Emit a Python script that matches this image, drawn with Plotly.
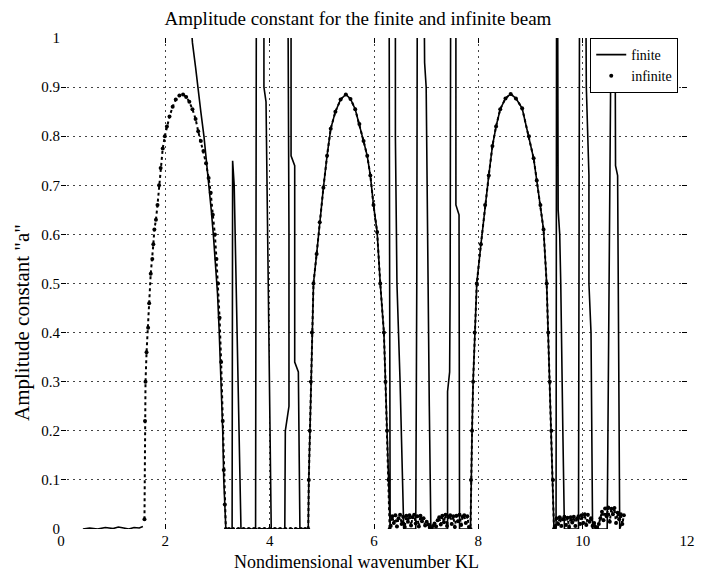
import plotly.graph_objects as go

# ---------------- finite beam ----------------
# low-wavenumber branch (sits on zero)
fin_low_x = [0.42, 0.55, 0.70, 0.85, 1.00, 1.10, 1.20, 1.30, 1.40, 1.50, 1.57]
fin_low_y = [0.0, 0.002, 0.0, 0.003, 0.001, 0.004, 0.002, 0.0, 0.003, 0.002, 0.005]

# first band: falling branch plus the resonance spikes between 3 and 4.6
fin_b1_x = [2.46, 2.52, 2.58, 2.62, 2.68, 2.74, 2.80, 2.84, 2.88, 2.92,
            2.97, 3.00, 3.03, 3.07, 3.10, 3.12, 3.14, 3.16,
            3.28, 3.29, 3.32, 3.36, 3.45,
            3.73, 3.74, 3.745,
            3.89, 3.89, 3.93, 3.96, 4.00, 4.03,
            4.29, 4.30, 4.37, 4.37, 4.35,
            4.41, 4.41, 4.48, 4.48, 4.55, 4.58]
fin_b1_y = [1.08, 0.99, 0.94, 0.90, 0.85, 0.80, 0.74, 0.70, 0.65, 0.60,
            0.53, 0.48, 0.41, 0.30, 0.20, 0.10, 0.03, 0.0,
            0.0, 0.75, 0.70, 0.50, 0.0,
            0.0, 0.50, 1.10,
            1.10, 0.90, 0.87, 0.60, 0.30, 0.0,
            0.0, 0.20, 0.25, 0.60, 1.10,
            1.10, 0.76, 0.74, 0.34, 0.32, 0.0]

# spikes between 6.3 and 7.8
fin_b2_x = [6.31, 6.30, 6.29,
            6.41, 6.41, 6.44, 6.50, 6.57,
            6.80, 6.82, 6.83,
            6.96, 6.97, 7.00, 7.02, 7.03, 7.06, 7.09,
            7.41, 7.41, 7.45, 7.46, 7.47,
            7.57, 7.57, 7.63, 7.64]
fin_b2_y = [0.0, 0.50, 1.10,
            1.10, 0.80, 0.50, 0.30, 0.0,
            0.0, 0.50, 1.10,
            1.10, 0.95, 0.90, 0.62, 0.50, 0.25, 0.0,
            0.0, 0.28, 0.32, 0.50, 1.10,
            1.10, 0.66, 0.64, 0.0]

# spikes between 9.45 and 10.8
fin_b3_x = [9.49, 9.50,
            9.52, 9.53, 9.56, 9.58, 9.62, 9.65,
            9.92, 9.93, 9.94,
            10.06, 10.07, 10.12, 10.12, 10.16, 10.19,
            10.47, 10.50, 10.53, 10.55,
            10.62, 10.63, 10.67, 10.69, 10.71, 10.78]
fin_b3_y = [0.0, 1.10,
            1.10, 0.65, 0.60, 0.50, 0.20, 0.0,
            0.0, 0.50, 1.10,
            1.10, 0.90, 0.72, 0.50, 0.40, 0.0,
            0.0, 0.50, 0.78, 1.10,
            1.10, 0.74, 0.72, 0.40, 0.0, 0.02]

# ---------------- pass-band arches (infinite beam; finite beam follows arches 2 and 3) ----------------
arch1_x = [1.60, 1.61, 1.62, 1.64, 1.67, 1.69, 1.72, 1.75, 1.77, 1.79,
           1.82, 1.85, 1.88, 1.91, 1.95, 1.99, 2.03, 2.08, 2.14, 2.20,
           2.27, 2.34, 2.40, 2.46, 2.52, 2.58, 2.63, 2.68, 2.73, 2.78,
           2.83, 2.87, 2.91, 2.95, 2.98, 3.01, 3.04, 3.07, 3.10, 3.12,
           3.14, 3.16]
arch1_y = [0.02, 0.22, 0.30, 0.36, 0.41, 0.46, 0.52, 0.55, 0.58, 0.61,
           0.63, 0.66, 0.70, 0.735, 0.775, 0.80, 0.82, 0.84, 0.86, 0.875,
           0.883, 0.885, 0.88, 0.87, 0.855, 0.835, 0.81, 0.79, 0.77, 0.745,
           0.715, 0.685, 0.64, 0.60, 0.55, 0.50, 0.43, 0.34, 0.22, 0.12,
           0.05, 0.0]

arch2_x = [4.74, 4.75, 4.77, 4.79, 4.81, 4.84, 4.90, 4.96, 5.03, 5.10,
           5.17, 5.26, 5.36, 5.46, 5.55, 5.64, 5.72, 5.80, 5.87, 5.93,
           5.99, 6.06, 6.12, 6.19, 6.22, 6.25, 6.28, 6.30]
arch2_y = [0.0, 0.10, 0.20, 0.30, 0.40, 0.50, 0.56, 0.625, 0.695, 0.76,
           0.815, 0.85, 0.875, 0.885, 0.876, 0.855, 0.825, 0.79, 0.76, 0.72,
           0.66, 0.605, 0.50, 0.40, 0.30, 0.20, 0.10, 0.0]

arch3_x = [7.85, 7.86, 7.88, 7.90, 7.93, 7.97, 8.05, 8.13, 8.20, 8.27,
           8.34, 8.42, 8.52, 8.62, 8.72, 8.84, 8.97, 9.06, 9.12, 9.19,
           9.25, 9.31, 9.34, 9.37, 9.40, 9.43, 9.45]
arch3_y = [0.0, 0.10, 0.20, 0.30, 0.40, 0.50, 0.58, 0.66, 0.72, 0.78,
           0.82, 0.855, 0.877, 0.886, 0.877, 0.857, 0.80, 0.755, 0.71, 0.66,
           0.61, 0.50, 0.40, 0.30, 0.20, 0.10, 0.0]

# ---------------- infinite beam in the stop bands ----------------
inf_r1_x = [3.22, 3.30, 3.40, 3.50, 3.60, 3.70, 3.80, 3.90, 4.00, 4.10,
            4.20, 4.30, 4.40, 4.50, 4.60, 4.68]
inf_r1_y = [0.0, 0.0, 0.0, 0.0, 0.0, 0.0, 0.0, 0.0, 0.0, 0.0,
            0.0, 0.0, 0.0, 0.0, 0.0, 0.0]

inf_r2_x = [6.32, 6.35, 6.38, 6.41, 6.44, 6.47, 6.50, 6.53, 6.56, 6.59,
            6.62, 6.65, 6.68, 6.71, 6.74, 6.77, 6.80, 6.83, 6.86, 6.89,
            6.92, 6.95, 6.98, 7.01, 7.04, 7.07, 7.10, 7.13, 7.16, 7.19,
            7.22, 7.25, 7.28, 7.31, 7.34, 7.37, 7.40, 7.43, 7.46, 7.49,
            7.52, 7.55, 7.58, 7.61, 7.64, 7.67, 7.70, 7.73, 7.76, 7.79,
            7.82]
inf_r2_y = [0.006, 0.026, 0.012, 0.028, 0.005, 0.022, 0.029, 0.010, 0.025, 0.004,
            0.027, 0.015, 0.028, 0.007, 0.024, 0.029, 0.011, 0.026, 0.005, 0.027,
            0.016, 0.022, 0.007, 0.015, 0.009, 0.003, 0.001, 0.006, 0.011, 0.005,
            0.018, 0.024, 0.009, 0.027, 0.014, 0.029, 0.006, 0.025, 0.028, 0.010,
            0.026, 0.004, 0.027, 0.016, 0.029, 0.008, 0.025, 0.028, 0.012, 0.026,
            0.004]

inf_r3_x = [9.47, 9.50, 9.53, 9.56, 9.59, 9.62, 9.65, 9.68, 9.71, 9.74,
            9.77, 9.80, 9.83, 9.86, 9.89, 9.92, 9.95, 9.98, 10.01, 10.04,
            10.07, 10.10, 10.13, 10.16, 10.19, 10.22, 10.25, 10.28, 10.31, 10.34,
            10.37, 10.40, 10.43, 10.46, 10.49, 10.52, 10.55, 10.58, 10.61, 10.64,
            10.67, 10.70, 10.73, 10.76, 10.79]
inf_r3_y = [0.005, 0.022, 0.010, 0.024, 0.006, 0.020, 0.025, 0.008, 0.023, 0.004,
            0.024, 0.013, 0.025, 0.006, 0.021, 0.026, 0.010, 0.028, 0.012, 0.030,
            0.008, 0.029, 0.015, 0.022, 0.006, 0.012, 0.004, 0.001, 0.010, 0.022,
            0.035, 0.018, 0.042, 0.026, 0.044, 0.015, 0.041, 0.030, 0.043, 0.012,
            0.033, 0.020, 0.030, 0.010, 0.028]

x_ticks = [0, 2, 4, 6, 8, 10, 12]
y_ticks = [0, 0.1, 0.2, 0.3, 0.4, 0.5, 0.6, 0.7, 0.8, 0.9, 1.0]
y_tick_text = ["0", "0.1", "0.2", "0.3", "0.4", "0.5", "0.6", "0.7", "0.8", "0.9", "1"]

# assemble the two curves
finite_x = (fin_low_x + [None] + fin_b1_x + arch2_x + fin_b2_x
            + arch3_x + fin_b3_x)
finite_y = (fin_low_y + [None] + fin_b1_y + arch2_y + fin_b2_y
            + arch3_y + fin_b3_y)
inf_x = arch1_x + inf_r1_x + arch2_x + inf_r2_x + arch3_x + inf_r3_x
inf_y = arch1_y + inf_r1_y + arch2_y + inf_r2_y + arch3_y + inf_r3_y

SERIF = "Liberation Serif, Times New Roman, serif"
INK = "black"

fig = go.Figure()
fig.add_trace(go.Scatter(
    x=finite_x, y=finite_y, mode="lines", name="finite",
    line=dict(color=INK, width=1.6), connectgaps=False,
))
# dense dotted trail between the infinite-beam samples
fig.add_trace(go.Scatter(
    x=inf_x, y=inf_y, mode="lines", showlegend=False, hoverinfo="skip",
    line=dict(color=INK, width=2, dash="dot"),
))
fig.add_trace(go.Scatter(
    x=inf_x, y=inf_y, mode="markers", name="infinite",
    marker=dict(color=INK, size=4),
))

grid = dict(showgrid=True, gridcolor="#444", gridwidth=1, griddash="2px,4px",
            zeroline=False, showline=False, ticks="inside", ticklen=5,
            tickcolor=INK, tickwidth=1, mirror="ticks",
            tickfont=dict(family=SERIF, size=15, color=INK))

fig.update_layout(
    width=710, height=574,
    margin=dict(l=61, r=23, t=38, b=45),
    paper_bgcolor="white", plot_bgcolor="white",
    font=dict(family=SERIF, color=INK),
    title=dict(text="Amplitude constant for the finite and infinite beam",
               x=(358 - 61) / 626, xref="paper", xanchor="center",
               y=1 - 18.5 / 574, yref="container", yanchor="middle",
               font=dict(family=SERIF, size=19, color=INK)),
    xaxis=dict(range=[0, 12], tickvals=x_ticks, ticklabelstandoff=1, **grid),
    yaxis=dict(range=[0, 1], tickvals=y_ticks, ticktext=y_tick_text, **grid),
    legend=dict(x=0.986, y=1.0, xanchor="right", yanchor="top",
                bgcolor="white", bordercolor=INK, borderwidth=1,
                font=dict(family=SERIF, size=14, color=INK),
                itemwidth=30, tracegroupgap=0),
    showlegend=True,
    annotations=[
        dict(text="Nondimensional wavenumber KL", xref="paper", yref="paper",
             x=(356 - 61) / 626, y=-33 / 491, xanchor="center", yanchor="middle",
             showarrow=False, font=dict(family=SERIF, size=18, color=INK)),
        dict(text='Amplitude constant "a"', xref="paper", yref="paper",
             x=(22 - 61) / 626, y=(529 - 323) / 491, xanchor="center",
             yanchor="middle", textangle=-90, showarrow=False,
             font=dict(family=SERIF, size=21, color=INK)),
    ],
)

fig.write_html("out.html")
